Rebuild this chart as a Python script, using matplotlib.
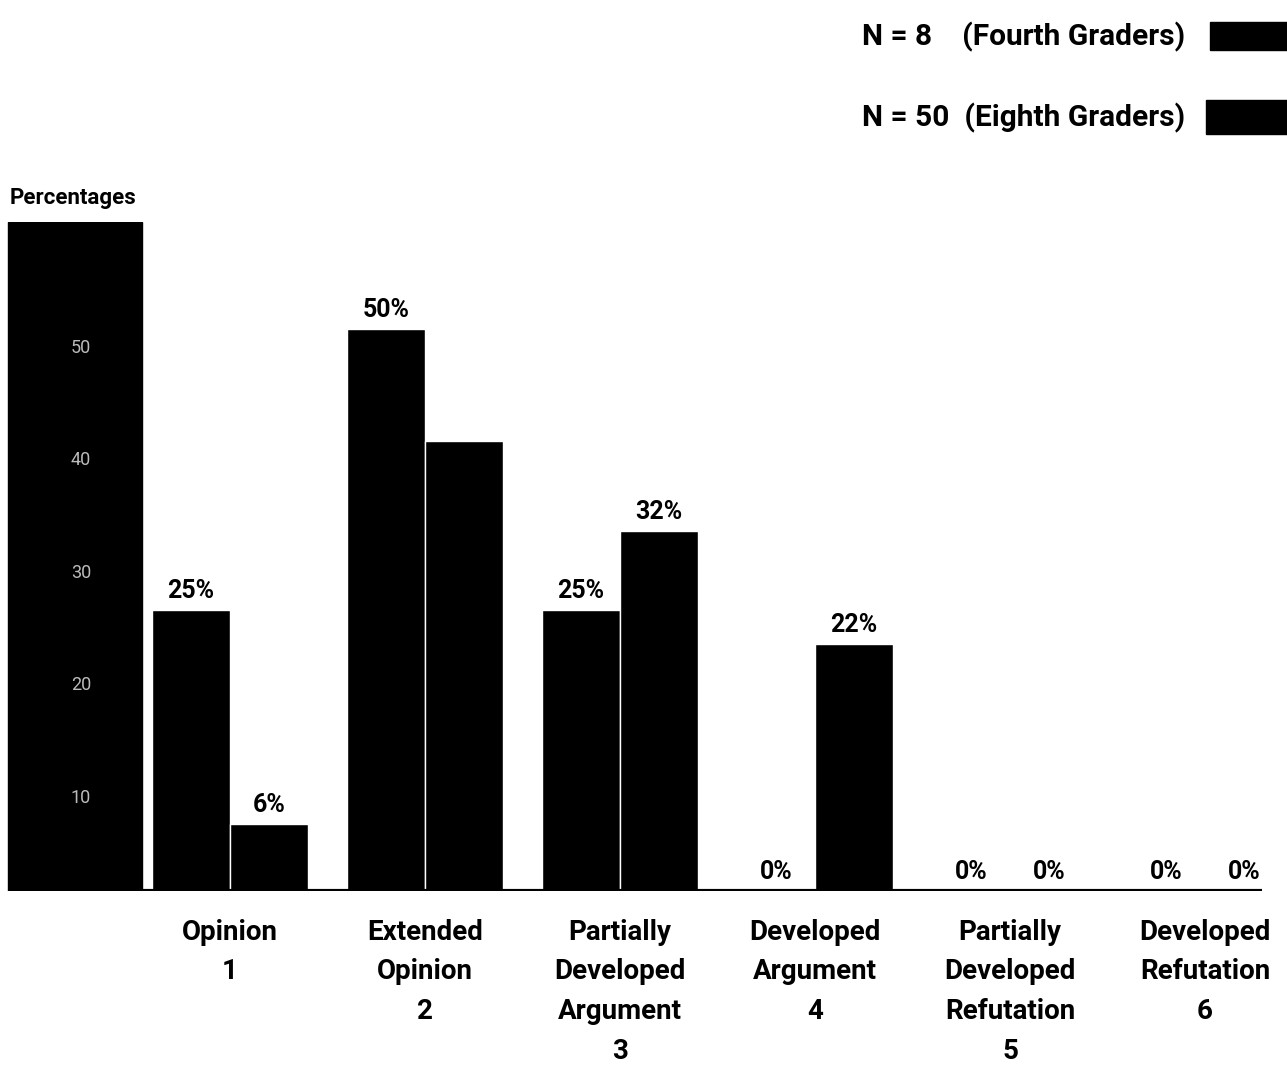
import numpy as np
import matplotlib
matplotlib.use("Agg")
import matplotlib.pyplot as plt
from matplotlib.patches import Rectangle

plt.rcParams['font.family'] = ['Roboto', 'DejaVu Sans']
plt.rcParams['font.weight'] = 'bold'

# data
categories = ["Opinion\n1", "Extended\nOpinion\n2", "Partially\nDeveloped\nArgument\n3",
              "Developed\nArgument\n4", "Partially\nDeveloped\nRefutation\n5",
              "Developed\nRefutation\n6"]
fourth = [25, 50, 25, 0, 0, 0]
eighth = [6, 40, 32, 22, 0, 0]
fourth_labels = ["25%", "50%", "25%", "0%", "0%", "0%"]
eighth_labels = ["6%", "", "32%", "22%", "0%", "0%"]   # 40% label lost in the scan
legend_labels = ["N = 8    (Fourth Graders)", "N = 50  (Eighth Graders)"]
yticks = [10, 20, 30, 40, 50]

W, H = 1287, 1077
fig = plt.figure(figsize=(W / 100, H / 100), dpi=100)

# pixel layout of the original
base_px, top_px = 891, 222
px_per_unit = 195.0          # one category step
ymax = (base_px - top_px) / 11.25
xmin = 1 - 230 / px_per_unit
xmax = 1 + (W - 230) / px_per_unit
ax = fig.add_axes([0, 1 - base_px / H, 1, (base_px - top_px) / H])
ax.set_xlim(xmin, xmax)
ax.set_ylim(0, ymax)
ax.axis("off")

x = np.arange(1, len(categories) + 1)
w = 0.4

# the black y-axis column with white tick numbers
col_l = 1 + (8 - 230) / px_per_unit
col_r = 1 + (142 - 230) / px_per_unit
ax.axvspan(col_l, col_r, color="black", zorder=1)
for t in yticks:
    ax.annotate(str(t), ((col_l + col_r) / 2 + 0.03, t), xytext=(0, -14),
                textcoords="offset points", color="#bbbbbb", fontsize=13,
                ha="center", va="center", fontweight="normal", zorder=2)
fig.text(10 / W, 1 - 198 / H, "Percentages", fontsize=16, fontweight="bold",
         ha="left", va="center")

# baseline
ax.plot([col_r, 1 + (1262 - 230) / px_per_unit], [0, 0], color="black", lw=3,
        solid_capstyle="butt", zorder=3)

ax.bar(x - w / 2, fourth, w, color="black", edgecolor="white", linewidth=1, zorder=2)
ax.bar(x + w / 2, eighth, w, color="black", edgecolor="white", linewidth=1, zorder=2)

for xi, v, lab in zip(x - w / 2, fourth, fourth_labels):
    ax.annotate(lab, (xi, v), xytext=(0, 5), textcoords="offset points",
                ha="center", va="bottom", fontsize=18, fontweight="bold")
for xi, v, lab in zip(x + w / 2, eighth, eighth_labels):
    if lab:
        ax.annotate(lab, (xi, v), xytext=(0, 5), textcoords="offset points",
                    ha="center", va="bottom", fontsize=18, fontweight="bold")

for xi, cat in zip(x, categories):
    ax.annotate(cat, (xi, 0), xytext=(0, -20), textcoords="offset points",
                ha="center", va="top", fontsize=20, fontweight="bold",
                linespacing=1.6, annotation_clip=False)

# legend at the top right
leg_y = [37, 118]
for lab, yp, (rx, ry, rw, rh) in zip(legend_labels, leg_y,
                                     [(1210, 22, 90, 28), (1206, 100, 90, 34)]):
    fig.text(862 / W, 1 - yp / H, lab, fontsize=21.5, fontweight="bold",
             ha="left", va="center")
    fig.patches.append(Rectangle((rx / W, 1 - (ry + rh) / H), rw / W, rh / H,
                                 transform=fig.transFigure, color="black"))

fig.savefig("out.png", dpi=100, facecolor="white")
